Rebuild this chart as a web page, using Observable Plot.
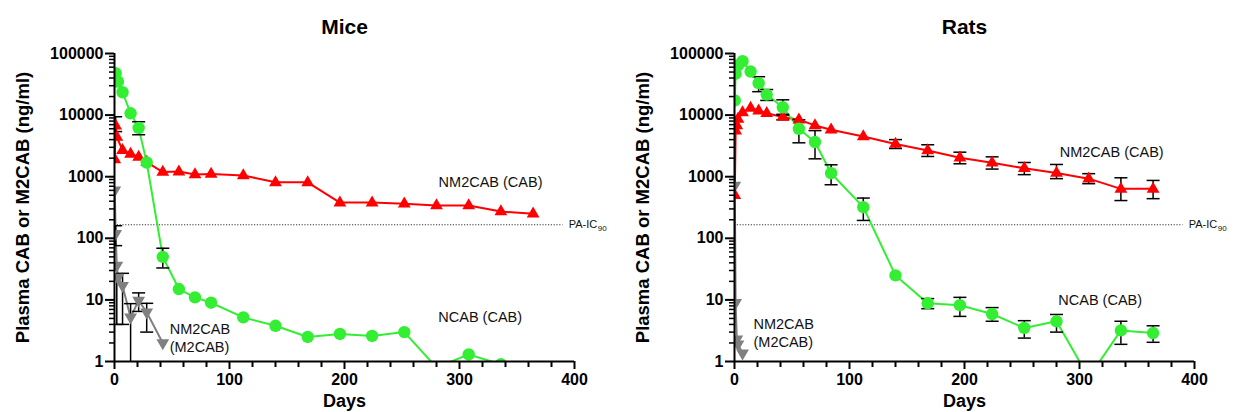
<!DOCTYPE html>
<html>
<head>
<meta charset="utf-8">
<script src="https://cdn.jsdelivr.net/npm/d3@7"></script>
<script src="https://cdn.jsdelivr.net/npm/@observablehq/plot@0.6"></script>
<style>
  html, body { margin: 0; padding: 0; background: #fff; }
  #wrap { display: flex; width: 1236px; height: 412px; }
</style>
</head>
<body>
<div id="wrap"></div>
<script>
// ---------------- Data ----------------
const yLabel = "Plasma CAB or M2CAB (ng/ml)";
const xLabel = "Days";
const paIC90 = 166;
const paLineEnd = 390;
const yMajorTicks = [1, 10, 100, 1000, 10000, 100000];
const xMajorTicks = [0, 100, 200, 300, 400];

// Mice
const miceGreenDay = [0.25, 1, 3, 7, 14, 21, 28, 42, 56, 70, 84, 112, 140, 168, 196, 224, 252, 280, 308, 336];
const miceGreenVal = [35000, 48000, 35000, 23500, 10700, 6200, 1700, 50, 15, 11, 9.0, 5.2, 3.8, 2.5, 2.8, 2.6, 3.0, 0.8, 1.3, 0.9];
const miceRedDay = [0.25, 1, 2, 7, 14, 21, 28, 42, 56, 70, 84, 112, 140, 168, 196, 224, 252, 280, 308, 336, 364];
const miceRedVal = [1900, 6700, 4400, 2700, 2350, 2100, 1730, 1190, 1210, 1090, 1110, 1050, 810, 810, 380, 380, 365, 340, 340, 272, 250];
const miceGrayDay = [0.25, 1, 2, 3, 7, 14, 21, 28, 42];
const miceGrayVal = [600, 118, 36, 23, 17, 5.2, 9.8, 6.3, 2.0];
// error bars (day, low, high)
const miceErrDay = [1, 21, 42, 1, 2, 7, 14, 21, 28];
const miceErrLo  = [5400, 4800, 33, 76, 4, 4, 0.5, 6.5, 3];
const miceErrHi  = [9400, 7800, 69, 160, 26, 27, 8.7, 13, 8.8];

// Rats
const ratsGreenDay = [0.25, 1, 3, 7, 14, 21, 28, 42, 56, 70, 84, 112, 140, 168, 196, 224, 252, 280, 308, 336, 364];
const ratsGreenVal = [17300, 47000, 64000, 75000, 51000, 33000, 21500, 13400, 6000, 3650, 1140, 320, 25, 8.8, 8.2, 5.9, 3.5, 4.5, 0.55, 3.2, 2.9];
const ratsRedDay = [0.25, 1, 2, 3, 7, 14, 21, 28, 42, 56, 70, 84, 112, 140, 168, 196, 224, 252, 280, 308, 336, 364];
const ratsRedVal = [500, 5600, 6800, 8700, 11000, 13100, 11800, 10700, 9300, 8400, 6800, 5800, 4500, 3400, 2660, 2030, 1680, 1370, 1150, 930, 635, 635];
const ratsGrayDay = [0.25, 1, 2, 3, 7];
const ratsGrayVal = [720, 9, 2.3, 1.9, 1.36];
const ratsErrDay = [21, 28, 42, 56, 70, 84, 112, 168, 196, 224, 252, 280, 336, 364,
                    42, 140, 168, 196, 224, 252, 280, 308, 336, 364];
const ratsErrLo  = [24000, 17300, 10000, 3550, 1950, 740, 195, 7.2, 5.4, 4.5, 2.4, 3.0, 1.9, 2.05,
                    8400, 2870, 2130, 1620, 1330, 1080, 930, 770, 410, 440];
const ratsErrHi  = [42000, 26000, 17700, 8400, 5600, 1560, 450, 10.5, 11, 7.5, 4.6, 5.8, 4.5, 3.8,
                    10300, 4000, 3300, 2500, 2100, 1700, 1580, 1120, 960, 870];

// Series labels (text, day, value): centred labels and left-aligned labels
const miceLabelText = ["NM2CAB (CAB)", "NCAB (CAB)"];
const miceLabelDay  = [327, 318];
const miceLabelVal  = [805, 5.2];
const miceLeftLabelText = ["NM2CAB\n(M2CAB)"];
const miceLeftLabelDay  = [48];
const miceLeftLabelVal  = [2.45];
const ratsLabelText = ["NM2CAB (CAB)", "NCAB (CAB)"];
const ratsLabelDay  = [328, 318];
const ratsLabelVal  = [2460, 10];
const ratsLeftLabelText = ["NM2CAB\n(M2CAB)"];
const ratsLeftLabelDay  = [16.5];
const ratsLeftLabelVal  = [2.95];

// ---------------- Helpers ----------------
const GREEN = "#33ee33", RED = "#ff0000", GRAY = "#808080";
const zip = (days, vals) => days.map((d, i) => ({day: d, v: vals[i]}));
const zipErr = (days, lo, hi) => days.map((d, i) => ({day: d, lo: lo[i], hi: hi[i]}));
const zipLab = (t, d, v) => t.map((s, i) => ({text: s, day: d[i], v: v[i]}));

const yMinorTicks = [];
for (let k = 0; k < 5; k++) for (let m = 2; m <= 9; m++) yMinorTicks.push(m * Math.pow(10, k));
const xMinorTicks = d3.range(20, 400, 20).filter(d => d % 100 !== 0);

const capSym = {draw(ctx) { ctx.moveTo(-6.5, 0); ctx.lineTo(6.5, 0); }};
const triUp = {draw(ctx) { ctx.moveTo(0, -7.2); ctx.lineTo(6.4, 3.8); ctx.lineTo(-6.4, 3.8); ctx.closePath(); }};
const triDown = {draw(ctx) { ctx.moveTo(0, 7.2); ctx.lineTo(6.4, -3.8); ctx.lineTo(-6.4, -3.8); ctx.closePath(); }};

function panel(title, green, red, gray, err, labels, leftLabels, ml, mr) {
  return Plot.plot({
    width: 618, height: 412,
    marginLeft: ml, marginRight: mr, marginTop: 53, marginBottom: 51,
    x: {domain: [0, 400], label: null},
    y: {type: "log", domain: [1, 100000], label: null},
    style: {fontFamily: "'Liberation Sans', Arial, Helvetica, sans-serif", fontSize: "16px", fontWeight: "bold", color: "#000", background: "#fff"},
    marks: [
      Plot.axisY({ticks: yMajorTicks, tickSize: 9, tickPadding: 2, tickFormat: d3.format("d"), strokeWidth: 2, label: null, fontSize: 16, fontWeight: "bold"}),
      Plot.axisY({ticks: yMinorTicks, tickSize: 5, tickFormat: () => "", strokeWidth: 1.5, label: null}),
      Plot.axisX({ticks: xMajorTicks, tickSize: 8, tickPadding: 4, tickFormat: d3.format("d"), strokeWidth: 2, label: null, fontSize: 16, fontWeight: "bold"}),
      Plot.axisX({ticks: xMinorTicks, tickSize: 6, tickFormat: () => "", strokeWidth: 2, label: null}),
      // reference line
      Plot.ruleY([{y: paIC90, x1: 0, x2: paLineEnd}], {y: "y", x1: "x1", x2: "x2", stroke: "#333", strokeWidth: 1.2, strokeDasharray: "1.2,1.6"}),
      Plot.text([{x: paLineEnd + 5, y: paIC90}], {x: "x", y: "y", text: () => "PA-IC", textAnchor: "start", fontSize: 11, fontWeight: "normal", fill: "#111"}),
      Plot.text([{x: paLineEnd + 5, y: paIC90}], {x: "x", y: "y", text: () => "90", textAnchor: "start", dx: 29, dy: 3.5, fontSize: 8, fontWeight: "normal", fill: "#111"}),
      // lines
      Plot.line(gray, {x: "day", y: "v", stroke: GRAY, strokeWidth: 2, clip: true}),
      Plot.line(red, {x: "day", y: "v", stroke: RED, strokeWidth: 2, clip: true}),
      Plot.line(green, {x: "day", y: "v", stroke: GREEN, strokeWidth: 2, clip: true}),
      // error bars
      Plot.ruleX(err, {x: "day", y1: "lo", y2: "hi", stroke: "#000", strokeWidth: 1.5, clip: true}),
      Plot.dot(err, {x: "day", y: "hi", symbol: capSym, fill: "none", stroke: "#000", strokeWidth: 1.5, clip: true}),
      Plot.dot(err, {x: "day", y: "lo", symbol: capSym, fill: "none", stroke: "#000", strokeWidth: 1.5, clip: true}),
      // markers
      Plot.dot(gray, {x: "day", y: "v", symbol: triDown, fill: GRAY, stroke: "none", clip: true}),
      Plot.dot(red, {x: "day", y: "v", symbol: triUp, fill: RED, stroke: "none", clip: true}),
      Plot.dot(green, {x: "day", y: "v", r: 6.2, fill: GREEN, stroke: "none", clip: true}),
      // axis lines
      Plot.ruleX([0], {stroke: "#000", strokeWidth: 2}),
      Plot.ruleY([1], {stroke: "#000", strokeWidth: 2}),
      // series labels
      Plot.text(labels, {x: "day", y: "v", text: "text", textAnchor: "middle", fontSize: 14.5, fontWeight: "normal", fill: "#111"}),
      Plot.text(leftLabels, {x: "day", y: "v", text: "text", textAnchor: "start", fontSize: 14.5, fontWeight: "normal", lineHeight: 1.25, fill: "#111"}),
      // title & axis labels
      Plot.text([title], {frameAnchor: "top", dy: -34, fontSize: 21, fontWeight: "bold"}),
      Plot.text([xLabel], {frameAnchor: "bottom", dy: 45, fontSize: 18, fontWeight: "bold"}),
      Plot.text([yLabel], {frameAnchor: "left", dx: -91, rotate: -90, textAnchor: "middle", fontSize: 18.5, fontWeight: "bold"})
    ]
  });
}

const wrap = document.getElementById("wrap");
wrap.appendChild(panel("Mice",
  zip(miceGreenDay, miceGreenVal), zip(miceRedDay, miceRedVal), zip(miceGrayDay, miceGrayVal),
  zipErr(miceErrDay, miceErrLo, miceErrHi),
  zipLab(miceLabelText, miceLabelDay, miceLabelVal),
  zipLab(miceLeftLabelText, miceLeftLabelDay, miceLeftLabelVal), 114, 44));
wrap.appendChild(panel("Rats",
  zip(ratsGreenDay, ratsGreenVal), zip(ratsRedDay, ratsRedVal), zip(ratsGrayDay, ratsGrayVal),
  zipErr(ratsErrDay, ratsErrLo, ratsErrHi),
  zipLab(ratsLabelText, ratsLabelDay, ratsLabelVal),
  zipLab(ratsLeftLabelText, ratsLeftLabelDay, ratsLeftLabelVal), 116, 42));
</script>
</body>
</html>
